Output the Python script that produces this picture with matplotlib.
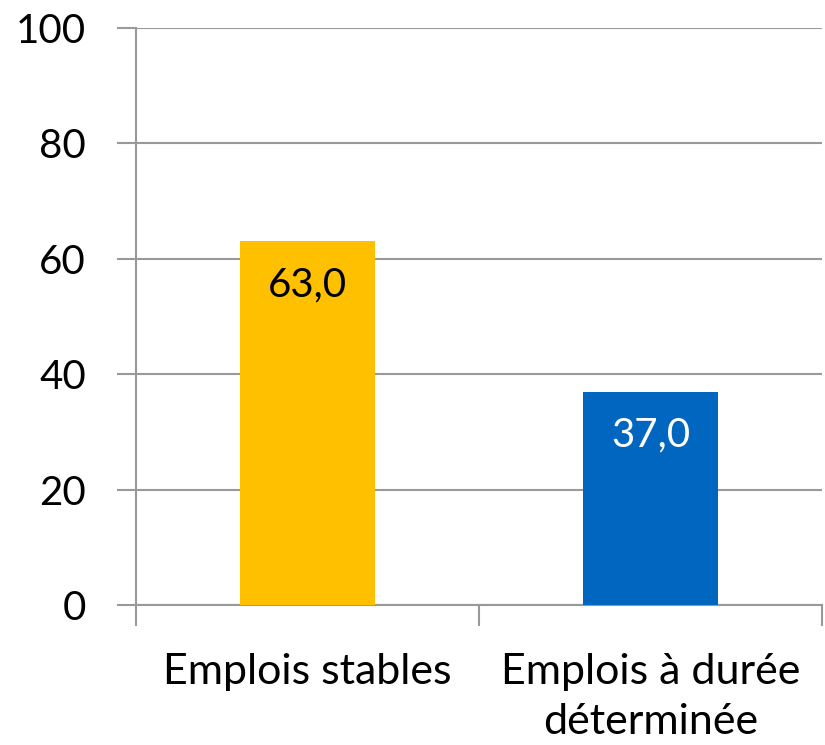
import matplotlib.pyplot as plt

categories = ["Emplois stables", "Emplois à durée\ndéterminée"]
values = [63.0, 37.0]
colors = ["#FFC000", "#0066BF"]
label_colors = ["black", "white"]

plt.rcParams['font.family'] = ['Lato', 'DejaVu Sans']

fig = plt.figure(figsize=(8.25, 7.45), dpi=100)
ax = fig.add_axes([136 / 825, 140 / 745, 686 / 825, 577 / 745])

x = list(range(len(categories)))
bars = ax.bar(x, values, width=0.395, color=colors, zorder=3)

for b, v, c in zip(bars, values, label_colors):
    ax.text(b.get_x() + b.get_width() / 2, v - 7.5, f"{v:.1f}".replace(".", ","),
            ha="center", va="center", fontsize=29, color=c, zorder=4)

gc = "#999999"
ax.set_xlim(-0.5, 1.5)
ax.set_ylim(0, 100)
ax.set_yticks(range(0, 101, 20))
ax.yaxis.grid(True, color=gc, linewidth=1.5, zorder=0)
ax.tick_params(axis="y", length=14, width=1.5, color=gc, labelsize=29, pad=22)

# category boundaries as x ticks
ax.set_xticks([-0.5, 0.5, 1.5])
ax.set_xticklabels([])
ax.tick_params(axis="x", length=15, width=1.5, color=gc)
for xi, name in zip(x, categories):
    ax.text(xi, -8.3, name, ha="center", va="top", fontsize=31, linespacing=1.38,
            transform=ax.transData)

for s in ["top", "right"]:
    ax.spines[s].set_visible(False)
for s in ["left", "bottom"]:
    ax.spines[s].set_color(gc)
    ax.spines[s].set_linewidth(1.5)

fig.savefig("out.png", dpi=100)
